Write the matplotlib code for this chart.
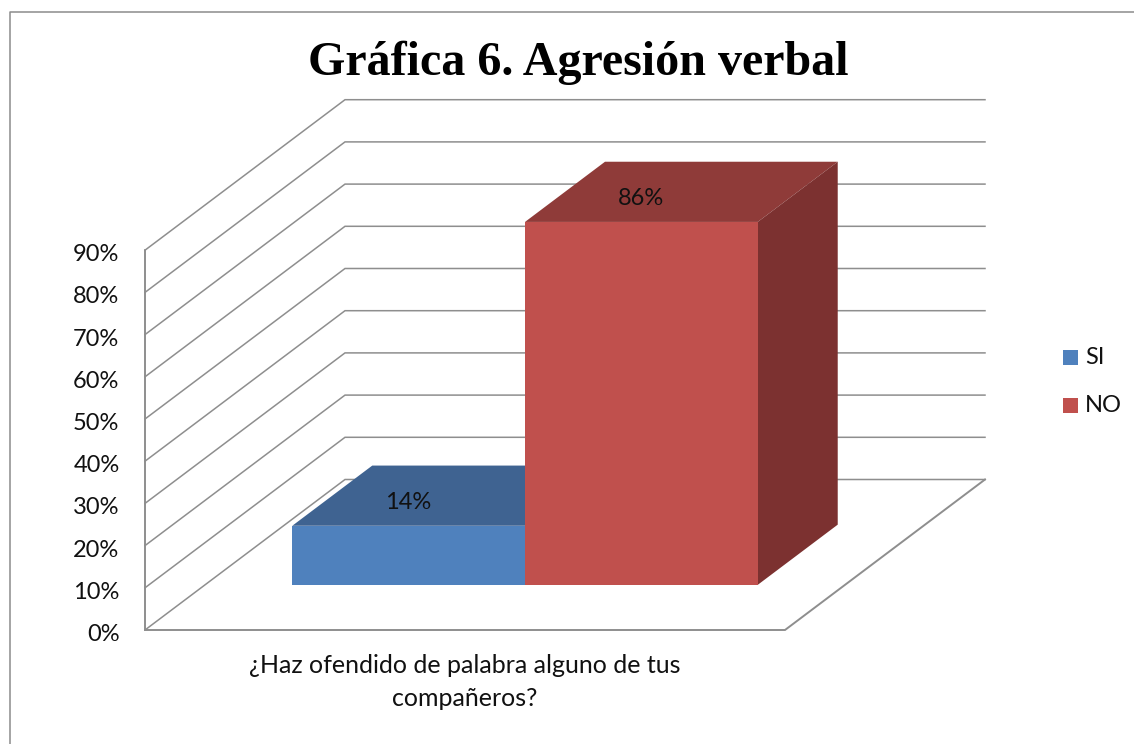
import matplotlib
matplotlib.use('Agg')
import matplotlib.pyplot as plt
from matplotlib.patches import Polygon, Rectangle

series = ['SI', 'NO']
values = [14, 86]
value_labels = ['14%', '86%']
colors = ['#4F81BD', '#C0504D']
top_colors = ['#3F6391', '#8F3B39']
side_colors = ['#365473', '#7C3130']
ticks = [0, 10, 20, 30, 40, 50, 60, 70, 80, 90]
tick_labels = ['0%', '10%', '20%', '30%', '40%', '50%', '60%', '70%', '80%', '90%']
category = '¿Haz ofendido de palabra alguno de tus\ncompañeros?'
title = 'Gráfica 6. Agresión verbal'

# pixel geometry of the fake 3d box
X0, Y0 = 145, 630
WIDTH = 640
DX, DY = 200, 150.5
PER_UNIT = 4.22
GRID = '#8E8E8E'


def proj(x, v, d):
    # x: 0-1 along the category, v: value in %, d: 0-1 into the depth
    return (X0 + x * WIDTH + d * DX, Y0 - v * PER_UNIT - d * DY)


fig = plt.figure(figsize=(11.34, 7.44), dpi=100)
ax = fig.add_axes([0, 0, 1, 1])
ax.set_xlim(0, 1134)
ax.set_ylim(744, 0)
ax.axis('off')

# chart frame
ax.plot([10, 10, 1134], [744, 11.5, 11.5], color='#8C8C8C', lw=1.1)

# walls and gridlines
for t, lab in zip(ticks, tick_labels):
    pts = [proj(0, t, 0), proj(0, t, 1), proj(1, t, 1)]
    ax.plot(*zip(*pts), color=GRID, lw=1.1, solid_joinstyle='miter')
    x, y = proj(0, t, 0)
    ax.text(119.5, y + 4.5, lab, ha='right', va='center', fontsize=17, family='Lato', color='#111111')
pts = [proj(0, 90, 0), proj(0, 0, 0), proj(1, 0, 0), proj(1, 0, 1)]
ax.plot(*zip(*pts), color=GRID, lw=1.4, solid_joinstyle='miter')

# bars, back to front is left to right here
bar_w = 4 / 11
start = 1.5 / 11
d0, d1 = 0.3, 0.7
for i, v in enumerate(values):
    a = start + i * bar_w
    b = a + bar_w
    top = [proj(a, v, d0), proj(b, v, d0), proj(b, v, d1), proj(a, v, d1)]
    side = [proj(b, 0, d0), proj(b, v, d0), proj(b, v, d1), proj(b, 0, d1)]
    front = [proj(a, 0, d0), proj(b, 0, d0), proj(b, v, d0), proj(a, v, d0)]
    ax.add_patch(Polygon(top, closed=True, fc=top_colors[i], ec='none', zorder=3))
    ax.add_patch(Polygon(side, closed=True, fc=side_colors[i], ec='none', zorder=3))
    ax.add_patch(Polygon(front, closed=True, fc=colors[i], ec='none', zorder=4))
    lx, ly = proj((a + b) / 2, v, d0)
    ax.text(lx, ly - 23, value_labels[i], ha='center', va='center', fontsize=17,
            family='Lato', color='#111111', zorder=5)

ax.text(578, 63, title, ha='center', va='center', fontsize=34.6, fontweight='bold',
        family='Liberation Serif', color='black')
ax.text(465, 682, category, ha='center', va='center', fontsize=18, family='Lato',
        color='#111111', linespacing=1.5)

# legend
for name, c, y in zip(series, colors, [357.5, 405]):
    ax.add_patch(Rectangle((1063, y - 7.5), 15, 15, fc=c, ec='none'))
    ax.text(1085, y + 0.5, name, ha='left', va='center', fontsize=17, family='Lato', color='#111111')

fig.savefig('out.png', dpi=100)
